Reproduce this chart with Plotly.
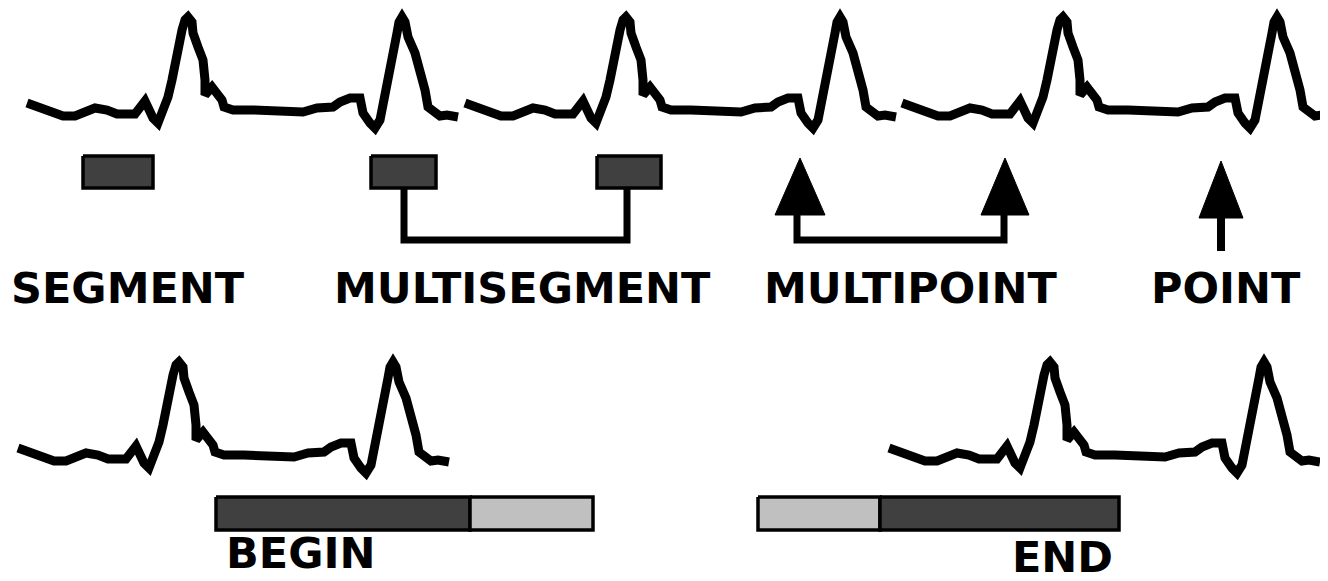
import plotly.graph_objects as go

# ECG strip (two beats), x offset in px along the strip, y = vertical position (px from top)
ecg_t = [2, 8, 22, 38, 50, 62, 70, 82, 92, 110, 120, 128, 133, 138, 143, 147, 150, 153, 157, 160,
         163, 167, 168, 173, 178, 180, 180, 187, 192, 197, 199, 208, 228, 245, 258, 272, 278, 292,
         308, 315, 325, 335, 338, 345, 350, 355, 360, 363, 368, 372, 374, 377, 380, 383, 390, 395,
         400, 403, 408, 415, 422, 433]
ecg_v = [103, 105, 110, 116, 116, 111, 108, 110, 114, 114, 101, 118, 123, 110, 97, 80, 62, 43, 30, 20,
         17, 22, 33, 47, 60, 80, 95, 87, 93, 100, 107, 110, 110, 110, 112, 110, 112, 108,
         107, 102, 98, 98, 113, 123, 128, 120, 97, 77, 53, 33, 22, 17, 22, 37, 53, 70,
         90, 107, 110, 116, 115, 117]

# strip placements (x shift, y shift)
strip_dx = [25, 463, 900, 16, 887]
strip_dy = [0, 0, 0, 345, 345]

# annotation types
seg_boxes = [(83, 153), (371, 436), (597, 661)]
label_text = ["SEGMENT", "MULTISEGMENT", "MULTIPOINT", "POINT"]
label_x = [128, 522, 910, 1226]

OFF = 8  # page offset of the plot inside the browser page

fig = go.Figure()

for dx, dy in zip(strip_dx, strip_dy):
    fig.add_trace(go.Scatter(x=[t + dx for t in ecg_t], y=[v + dy for v in ecg_v], mode="lines",
                             line=dict(color="black", width=9), hoverinfo="skip"))

def box(x0, x1, y0, y1, fill):
    fig.add_trace(go.Scatter(x=[x0, x1, x1, x0, x0], y=[y0, y0, y1, y1, y0], mode="lines",
                             fill="toself", fillcolor=fill, line=dict(color="black", width=3.5),
                             hoverinfo="skip"))

def poly(xs, ys, w=7):
    fig.add_trace(go.Scatter(x=xs, y=ys, mode="lines", line=dict(color="black", width=w),
                             hoverinfo="skip"))

def arrow(xc, ytop, ybase, half):
    fig.add_trace(go.Scatter(x=[xc, xc + half, xc - half, xc], y=[ytop, ybase, ybase, ytop],
                             mode="lines", fill="toself", fillcolor="black",
                             line=dict(color="black", width=1), hoverinfo="skip"))

# connector for multisegment
poly([404, 404, 627, 627], [188, 240, 240, 188])
for x0, x1 in seg_boxes:
    box(x0, x1, 156, 188, "#404040")

# multipoint
poly([797, 797, 1004, 1004], [212, 240, 240, 212])
arrow(800, 158, 215, 25)
arrow(1005, 158, 215, 24)
# point
poly([1221, 1221], [212, 251], w=8)
arrow(1221, 161, 218, 22)

# begin / end bars
box(216, 470, 497, 530, "#404040")
box(470, 593, 497, 530, "#c0c0c0")
box(758, 880, 497, 530, "#c0c0c0")
box(880, 1119, 497, 530, "#404040")

FONT = dict(family="DejaVu Sans", size=43, color="black", weight="bold")
annotations = []
for t, x in zip(label_text, label_x):
    annotations.append(dict(x=x, y=288, text=t, showarrow=False, xanchor="center", yanchor="middle",
                            font=FONT))
annotations.append(dict(x=224, y=580, text="BEGIN", showarrow=False, xanchor="left", yanchor="bottom",
                        font=FONT))
annotations.append(dict(x=1062, y=557, text="END", showarrow=False, xanchor="center", yanchor="middle",
                        font=FONT))

fig.update_layout(width=1328, height=581, margin=dict(l=0, r=0, t=0, b=0),
                  paper_bgcolor="white", plot_bgcolor="white", showlegend=False,
                  annotations=annotations,
                  xaxis=dict(range=[OFF, 1328 + OFF], visible=False, fixedrange=True),
                  yaxis=dict(range=[581 + OFF, OFF], visible=False, fixedrange=True))

fig.write_html("out.html")
